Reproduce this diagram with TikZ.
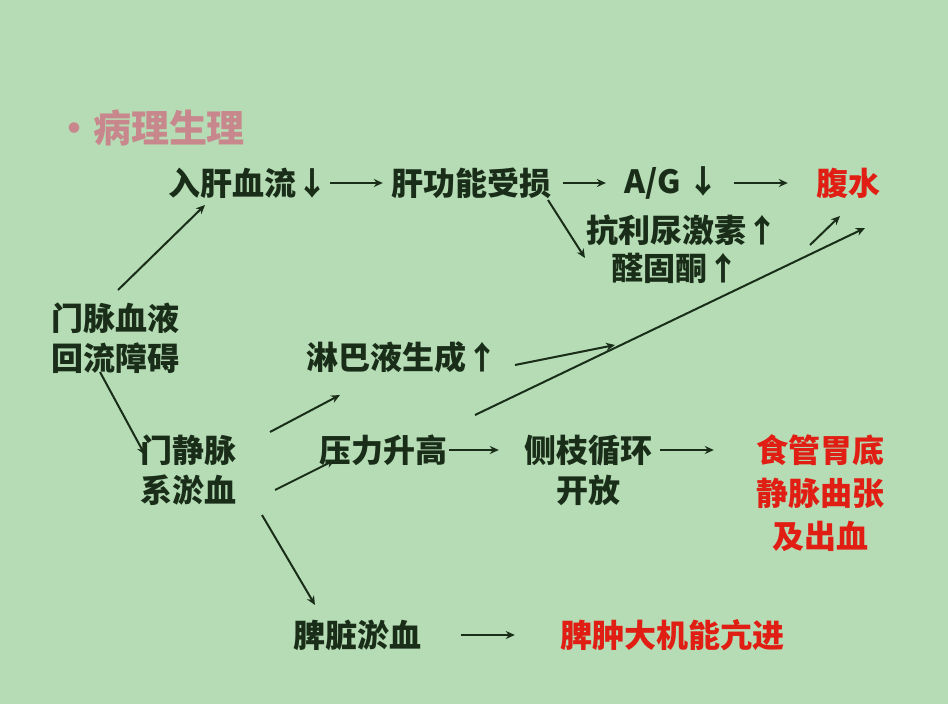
\documentclass[tikz,border=0pt]{standalone}
\usepackage{fontspec}
\setmainfont{Noto Sans CJK SC}
\usetikzlibrary{arrows.meta}
\definecolor{bg}{RGB}{181,220,180}
\definecolor{ink}{RGB}{25,45,25}
\definecolor{rd}{RGB}{225,30,20}
\definecolor{ttl}{RGB}{200,135,140}
\tikzset{
 t/.style={text=ink,font=\fontsize{32}{40}\selectfont\bfseries,inner sep=0pt,align=center},
 r/.style={t,text=rd,font=\fontsize{32}{43}\selectfont\bfseries},
 ln/.style={draw=ink,line width=2pt,-{Stealth[length=9pt,width=8pt]}},
}
\begin{document}
\begin{tikzpicture}[x=1pt,y=-1pt]
\fill[bg] (0,0) rectangle (948,704);
\useasboundingbox (0,0) rectangle (948,704);
\node[text=ttl,font=\fontsize{38}{40}\selectfont\bfseries,inner sep=0pt] (title) at (150,128) {·病理生理};
\node[t] (a) at (248,183) {入肝血流↓};
\node[t] (b) at (471,183) {肝功能受损};
\node[t] (c) at (672,183) {A/G ↓};
\node[r] (d) at (848,183) {腹水};
\node[t] (e) at (682,230) {抗利尿激素↑};
\node[t] (f) at (675,268) {醛固酮↑};
\node[t] (g) at (115,338) {门脉血液\\回流障碍};
\node[t] (h) at (402,357) {淋巴液生成↑};
\node[t] (i) at (188,470) {门静脉\\系淤血};
\node[t] (j) at (383,450) {压力升高};
\node[t] (k) at (588,470) {侧枝循环\\开放};
\node[r] (l) at (820,493) {食管胃底\\静脉曲张\\及出血};
\node[t] (m) at (357,635) {脾脏淤血};
\node[r] (n) at (672,635) {脾肿大机能亢进};
\coordinate (p1) at (865,228);
\coordinate (q1) at (475,415);
\coordinate (q2) at (515,365);
\coordinate (q3) at (615,345);
\coordinate (s1) at (810,245);
\coordinate (s2) at (840,216);
\draw[ln] ([xshift=2pt]a.east) -- ([xshift=-8pt]b.west);
\draw[ln] ([xshift=12pt]b.east) -- ([xshift=-18pt]c.west);
\draw[ln] ([xshift=14pt]c.east) -- ([xshift=-28pt]d.west);
\draw[ln] ([xshift=2pt]j.east) -- ([xshift=-25pt]k.west |- j.east);
\draw[ln] ([xshift=8pt]k.east |- j.east) -- ([xshift=-42pt]l.west |- j.east);
\draw[ln] ([xshift=40pt]m.east) -- ([xshift=-45pt]n.west);
\draw[ln] (118,290) -- (205,205);
\draw[ln] (100,372) -- (145,455);
\draw[ln] (270,432) -- (340,395);
\draw[ln] (275,490) -- (335,460);
\draw[ln] (262,515) -- (315,605);
\draw[ln] (548,200) -- (585,258);
\draw[ln] (q1) -- (p1);
\draw[ln] (q2) -- (q3);
\draw[ln] (s1) -- (s2);
\end{tikzpicture}
\end{document}
